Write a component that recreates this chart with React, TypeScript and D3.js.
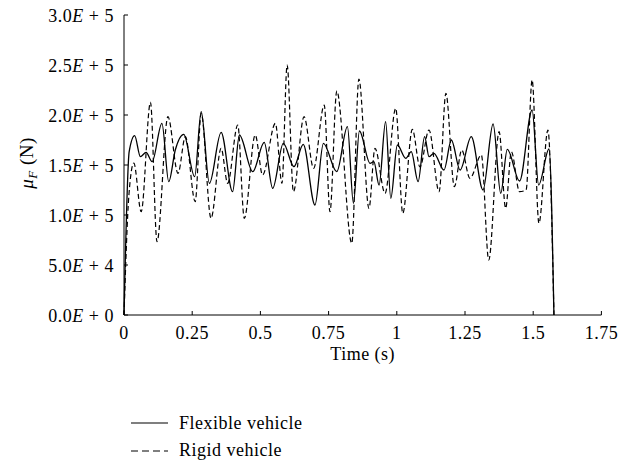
import React from "react";
import * as d3 from "d3";

const flexTime = [0, 0.019, 0.039, 0.06, 0.081, 0.103, 0.139, 0.164, 0.188, 0.219, 0.259, 0.283, 0.313, 0.356, 0.398, 0.423, 0.472, 0.514, 0.545, 0.584, 0.623, 0.657, 0.7, 0.731, 0.78, 0.819, 0.841, 0.863, 0.902, 0.916, 0.935, 0.959, 0.978, 1.002, 1.033, 1.053, 1.078, 1.102, 1.118, 1.136, 1.173, 1.2, 1.232, 1.273, 1.316, 1.353, 1.381, 1.405, 1.45, 1.496, 1.52, 1.558, 1.576];
const flexValue = [0, 163300, 179300, 158300, 162700, 153300, 191700, 133300, 165000, 180700, 138300, 203300, 131700, 182700, 123300, 180000, 143300, 172700, 126700, 171700, 148300, 170700, 110000, 171700, 143300, 188300, 111700, 184000, 151700, 153300, 130000, 193300, 116700, 170000, 156700, 163300, 133300, 178300, 158300, 161700, 145000, 175000, 145000, 178300, 125000, 191000, 121700, 165700, 134000, 205000, 130000, 166000, 0];

const rigidTime = [0, 0.018, 0.036, 0.063, 0.097, 0.121, 0.161, 0.198, 0.225, 0.261, 0.283, 0.319, 0.356, 0.38, 0.417, 0.441, 0.481, 0.508, 0.555, 0.579, 0.598, 0.621, 0.66, 0.695, 0.734, 0.755, 0.78, 0.835, 0.861, 0.898, 0.92, 0.957, 0.996, 1.022, 1.057, 1.085, 1.118, 1.155, 1.18, 1.211, 1.238, 1.268, 1.31, 1.337, 1.375, 1.399, 1.42, 1.45, 1.474, 1.496, 1.521, 1.554, 1.576];
const rigidValue = [0, 120000, 152000, 103300, 212700, 73300, 198300, 141700, 178300, 113300, 201700, 96700, 166700, 131700, 190000, 96700, 180000, 140000, 191700, 131700, 250000, 123300, 198300, 146700, 210000, 103300, 224000, 71700, 236000, 106700, 166700, 121700, 206700, 101700, 185700, 148000, 185000, 123300, 221700, 128300, 165000, 136700, 160000, 55000, 183300, 106700, 163300, 123300, 125000, 235000, 91700, 185000, 0];

const xTicks = [0, 0.25, 0.5, 0.75, 1, 1.25, 1.5, 1.75];
const xTickLabels = ["0", "0.25", "0.5", "0.75", "1", "1.25", "1.5", "1.75"];
const yTicks = [0, 50000, 100000, 150000, 200000, 250000, 300000];
const yTickMantissa = ["0.0", "5.0", "1.0", "1.5", "2.0", "2.5", "3.0"];
const yTickExponent = ["0", "4", "5", "5", "5", "5", "5"];
const seriesNames = ["Flexible vehicle", "Rigid vehicle"];

const FONT = "Liberation Serif, Times New Roman, serif";
const FS = 18;
const LS = 0.5;

export default function App() {
  const x = d3.scaleLinear().domain([0, 1.75]).range([124, 601.4]);
  const y = d3.scaleLinear().domain([0, 300000]).range([315, 15]);
  const line = d3
    .line<[number, number]>()
    .x((d) => x(d[0]))
    .y((d) => y(d[1]))
    .curve(d3.curveMonotoneX);
  const flex: [number, number][] = flexTime.map((t, i) => [t, flexValue[i]]);
  const rigid: [number, number][] = rigidTime.map((t, i) => [t, rigidValue[i]]);
  const txt = { fontFamily: FONT, fontSize: FS, letterSpacing: LS } as React.CSSProperties;

  return (
    <svg
      width={633}
      height={464}
      style={{ position: "absolute", left: 0, top: 0, background: "#fff" }}
    >
      <rect width={633} height={464} fill="#fff" />
      <path d={line(rigid) || ""} fill="none" stroke="#000" strokeWidth={1.2} strokeDasharray="5,3" />
      <path d={line(flex) || ""} fill="none" stroke="#000" strokeWidth={1.3} />
      <line x1={x(0)} x2={x(1.75)} y1={y(0)} y2={y(0)} stroke="#000" strokeWidth={1} />
      <line x1={x(0)} x2={x(0)} y1={y(0)} y2={y(300000)} stroke="#000" strokeWidth={1} />
      {xTicks.map((t, i) => (
        <g key={"xt" + i}>
          <line x1={x(t)} x2={x(t)} y1={y(0)} y2={y(0) - 4} stroke="#000" />
          <text x={x(t)} y={339} textAnchor="middle" style={txt}>
            {xTickLabels[i]}
          </text>
        </g>
      ))}
      {yTicks.map((v, i) => (
        <g key={"yt" + i}>
          <line x1={x(0)} x2={x(0) + 4} y1={y(v)} y2={y(v)} stroke="#000" />
          <text x={114} y={y(v) + 6.5} textAnchor="end" style={txt}>
            {yTickMantissa[i]}
            <tspan fontStyle="italic">E</tspan>
            {" + " + yTickExponent[i]}
          </text>
        </g>
      ))}
      <text x={(x(0) + x(1.75)) / 2} y={360} textAnchor="middle" style={txt}>
        Time (s)
      </text>
      <text transform="translate(33,163) rotate(-90)" textAnchor="middle" style={{ ...txt, fontSize: 19 }}>
        <tspan fontStyle="italic">μ</tspan>
        <tspan fontStyle="italic" fontSize={13} dy={4}>F</tspan>
        <tspan dy={-4}> (N)</tspan>
      </text>
      <line x1={131} x2={168} y1={423} y2={423} stroke="#000" strokeWidth={1.2} />
      <text x={179} y={429} style={txt}>{seriesNames[0]}</text>
      <line x1={131} x2={168} y1={451} y2={451} stroke="#000" strokeWidth={1.2} strokeDasharray="7,4" />
      <text x={179} y={456} style={txt}>{seriesNames[1]}</text>
    </svg>
  );
}
